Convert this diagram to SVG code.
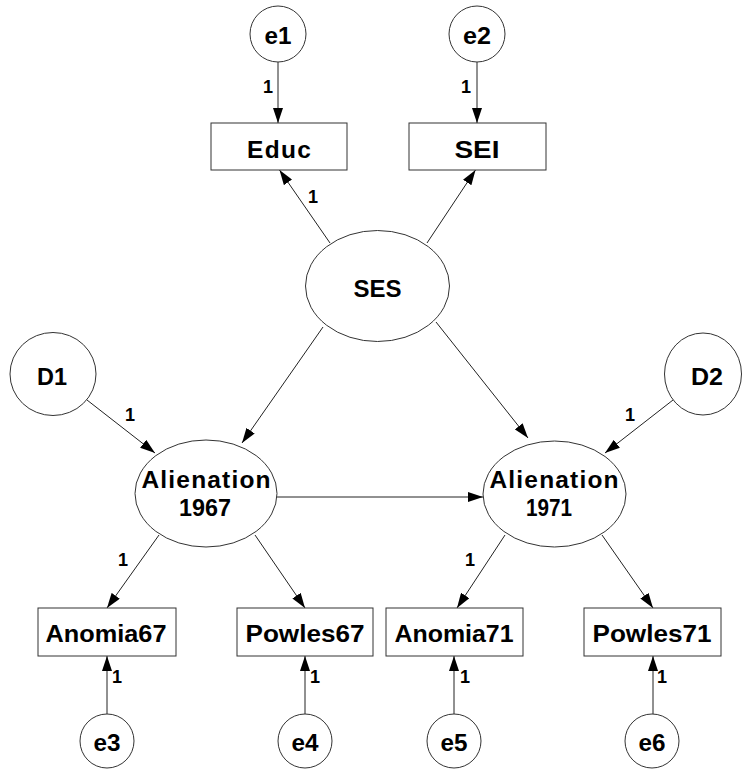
<svg xmlns="http://www.w3.org/2000/svg" width="742" height="769" viewBox="0 0 742 769">
<defs>
<marker id="ah" viewBox="0 0 15 10" refX="15" refY="5" markerWidth="15" markerHeight="10" orient="auto" markerUnits="userSpaceOnUse">
<path d="M0,0 L15,5 L0,10 z" fill="#000"/>
</marker>
</defs>
<style>
.shape{fill:#fff;stroke:#333;stroke-width:1}
.lbl{font-family:"Liberation Sans",Arial,sans-serif;font-weight:bold;font-size:24.5px;fill:#000;text-anchor:middle}
.w{font-family:"Liberation Sans",Arial,sans-serif;font-weight:bold;font-size:18px;fill:#000;text-anchor:middle}
.c{stroke:#222;stroke-width:1;fill:none;marker-end:url(#ah)}
</style>
<rect width="742" height="769" fill="#fff"/>
<g id="connectors">
<line class="c" x1="278" y1="62" x2="278" y2="123"/>
<line class="c" x1="477" y1="62" x2="477" y2="123"/>
<line class="c" x1="330" y1="243" x2="279.5" y2="170"/>
<line class="c" x1="427" y1="243" x2="475.5" y2="170"/>
<line class="c" x1="323" y1="327" x2="242" y2="443"/>
<line class="c" x1="436" y1="322" x2="528" y2="438"/>
<line class="c" x1="87" y1="400" x2="155" y2="453"/>
<line class="c" x1="673" y1="400" x2="605" y2="453"/>
<line class="c" x1="277" y1="497" x2="483" y2="497"/>
<line class="c" x1="159" y1="535" x2="107" y2="608"/>
<line class="c" x1="255" y1="535" x2="305" y2="608"/>
<line class="c" x1="505" y1="535" x2="457" y2="608"/>
<line class="c" x1="602" y1="535" x2="653" y2="608"/>
<line class="c" x1="107" y1="714" x2="107" y2="656"/>
<line class="c" x1="305" y1="714" x2="305" y2="656"/>
<line class="c" x1="454" y1="714" x2="454" y2="656"/>
<line class="c" x1="653" y1="714" x2="653" y2="656"/>
<text class="w" x="268" y="93">1</text>
<text class="w" x="466" y="93">1</text>
<text class="w" x="313" y="203">1</text>
<text class="w" x="130" y="421">1</text>
<text class="w" x="630" y="421">1</text>
<text class="w" x="123" y="566">1</text>
<text class="w" x="470" y="566">1</text>
<text class="w" x="117" y="683">1</text>
<text class="w" x="315" y="683">1</text>
<text class="w" x="465" y="683">1</text>
<text class="w" x="662" y="683">1</text>
</g>
<g id="e1"><circle class="shape" cx="278" cy="34" r="28"/><text class="lbl" x="278" y="44" textLength="27" lengthAdjust="spacingAndGlyphs">e1</text></g>
<g id="e2"><circle class="shape" cx="477" cy="34" r="28"/><text class="lbl" x="477" y="44" textLength="28" lengthAdjust="spacingAndGlyphs">e2</text></g>
<g id="Educ"><rect class="shape" x="211" y="123" width="136" height="47"/><text class="lbl" x="279" y="158" textLength="64" lengthAdjust="spacing">Educ</text></g>
<g id="SEI"><rect class="shape" x="409" y="123" width="137" height="47"/><text class="lbl" x="477" y="158" textLength="45" lengthAdjust="spacingAndGlyphs">SEI</text></g>
<g id="SES"><ellipse class="shape" cx="377.5" cy="286" rx="72" ry="55.5"/><text class="lbl" x="377.5" y="297" textLength="48" lengthAdjust="spacingAndGlyphs">SES</text></g>
<g id="D1"><ellipse class="shape" cx="53" cy="374" rx="43" ry="41.5"/><text class="lbl" x="52" y="385" textLength="30" lengthAdjust="spacingAndGlyphs">D1</text></g>
<g id="D2"><ellipse class="shape" cx="703" cy="374" rx="38.5" ry="41"/><text class="lbl" x="707" y="385" textLength="32" lengthAdjust="spacingAndGlyphs">D2</text></g>
<g id="Alienation1967"><ellipse class="shape" cx="206" cy="493.5" rx="71" ry="53.5"/><text class="lbl" x="206" y="488" textLength="129" lengthAdjust="spacing">Alienation</text><text class="lbl" x="205" y="516" textLength="52" lengthAdjust="spacingAndGlyphs">1967</text></g>
<g id="Alienation1971"><ellipse class="shape" cx="554.5" cy="494" rx="71.5" ry="53"/><text class="lbl" x="554" y="488" textLength="129" lengthAdjust="spacing">Alienation</text><text class="lbl" x="549" y="516" textLength="46" lengthAdjust="spacingAndGlyphs">1971</text></g>
<g id="Anomia67"><rect class="shape" x="38" y="608" width="138" height="48"/><text class="lbl" x="106" y="642" textLength="121" lengthAdjust="spacingAndGlyphs">Anomia67</text></g>
<g id="Powles67"><rect class="shape" x="237" y="608" width="136" height="48"/><text class="lbl" x="305" y="642" textLength="119" lengthAdjust="spacingAndGlyphs">Powles67</text></g>
<g id="Anomia71"><rect class="shape" x="386" y="608" width="137" height="48"/><text class="lbl" x="454" y="642" textLength="119" lengthAdjust="spacingAndGlyphs">Anomia71</text></g>
<g id="Powles71"><rect class="shape" x="584" y="608" width="137" height="48"/><text class="lbl" x="652" y="642" textLength="119" lengthAdjust="spacingAndGlyphs">Powles71</text></g>
<g id="e3"><circle class="shape" cx="107" cy="741" r="27"/><text class="lbl" x="107" y="751" textLength="27" lengthAdjust="spacingAndGlyphs">e3</text></g>
<g id="e4"><circle class="shape" cx="305" cy="741" r="27"/><text class="lbl" x="305" y="751" textLength="27" lengthAdjust="spacingAndGlyphs">e4</text></g>
<g id="e5"><circle class="shape" cx="454" cy="741" r="27"/><text class="lbl" x="454" y="751" textLength="27" lengthAdjust="spacingAndGlyphs">e5</text></g>
<g id="e6"><circle class="shape" cx="652" cy="741" r="27"/><text class="lbl" x="652" y="751" textLength="27" lengthAdjust="spacingAndGlyphs">e6</text></g>
</svg>
